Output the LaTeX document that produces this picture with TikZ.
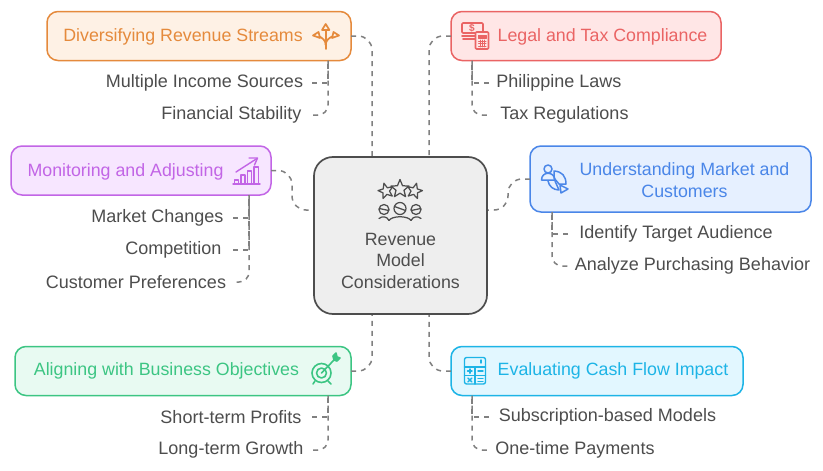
\documentclass[tikz,border=0pt]{standalone}
\usepackage{fontspec}
\setmainfont{Liberation Sans}
\definecolor{ink}{HTML}{4D4D4D}
\definecolor{dashc}{HTML}{808080}
\definecolor{oc}{HTML}{E58A3C}\definecolor{of}{HTML}{FEF1E5}
\definecolor{rc}{HTML}{EA6464}\definecolor{rf}{HTML}{FFE6E6}
\definecolor{pc}{HTML}{C265E6}\definecolor{pf}{HTML}{F7E6FF}
\definecolor{bc}{HTML}{4A86E8}\definecolor{bf}{HTML}{E6F0FF}
\definecolor{gc}{HTML}{3CC583}\definecolor{gf}{HTML}{E8FAF2}
\definecolor{cc}{HTML}{1DB4E6}\definecolor{cf}{HTML}{E2F7FF}
\newcommand{\ustar}{(0,-1)--(.27,-.34)--(.95,-.31)--(.42,.13)--(.59,.81)--(0,.44)--(-.59,.81)--(-.42,.13)--(-.95,-.31)--(-.27,-.34)--cycle}
\tikzset{
  tbox/.style 2 args={draw=#1,fill=#2,line width=1.5pt,rounded corners=11pt,outer sep=0pt,inner sep=0pt},
  lab/.style={text=#1,font=\fontsize{17.8}{21.5}\selectfont,inner sep=0pt,align=center,yshift=-1pt},
  leaf/.style={text=ink,font=\fontsize{18}{21}\selectfont,inner sep=0pt,outer sep=0pt,minimum width=#1,yshift=-1pt},
  dashline/.style={draw=dashc,line width=1.5pt,dash pattern=on 5pt off 5pt},
  branch/.style={dashline,rounded corners=10pt},
  link/.style={dashline,rounded corners=14pt},
  ico/.style={draw=#1,line width=1.5pt,line join=round,line cap=round},
}
\begin{document}
\begin{tikzpicture}[x=1pt,y=-1pt]
\useasboundingbox (0,0) rectangle (823,471);
\fill[white] (0,0) rectangle (823,471);
% anchors on the centre box
\coordinate (tl) at (372,157);\coordinate (tr) at (429,157);
\coordinate (bl) at (372,314);\coordinate (br) at (429,314);
\coordinate (lm) at (314,210);\coordinate (rm) at (487,210);
% boxes
\node[tbox={oc}{of},minimum width=304pt,minimum height=49pt] (orange) at (199,36) {};
\node[tbox={rc}{rf},minimum width=270pt,minimum height=49pt] (red) at (586,36) {};
\node[tbox={pc}{pf},minimum width=260pt,minimum height=49pt] (purple) at (141,170.5) {};
\node[tbox={bc}{bf},minimum width=281pt,minimum height=66pt] (blue) at (670.5,179) {};
\node[tbox={gc}{gf},minimum width=336pt,minimum height=49pt] (green) at (183,371) {};
\node[tbox={cc}{cf},minimum width=292pt,minimum height=49pt] (cyan) at (597,371) {};
% box labels
\node[lab=oc] (orangeT) at (183,36) {Diversifying Revenue Streams};
\node[lab=rc] (redT) at (602.5,36) {Legal and Tax Compliance};
\node[lab=pc] (purpleT) at (125.5,171) {Monitoring and Adjusting};
\node[lab=bc] (blueT) at (684.5,179) {Understanding Market and\\Customers};
\node[lab=gc] (greenT) at (166.5,370) {Aligning with Business Objectives};
\node[lab=cc] (cyanT) at (613,370) {Evaluating Cash Flow Impact};
% leaves
\node[leaf=215pt] (o1) at (204.5,82) {Multiple Income Sources};
\node[leaf=161pt] (o2) at (231.5,114) {Financial Stability};
\node[leaf=140pt] (r1) at (559,82) {Philippine Laws};
\node[leaf=151pt] (r2) at (564.5,114) {Tax Regulations};
\node[leaf=151pt] (p1) at (157.5,217) {Market Changes};
\node[leaf=119pt] (p2) at (173.5,249) {Competition};
\node[leaf=194pt] (p3) at (136,281) {Customer Preferences};
\node[leaf=216pt] (b1) at (676,233) {Identify Target Audience};
\node[leaf=249pt] (b2) at (692.5,265) {Analyze Purchasing Behavior};
\node[leaf=162pt] (g1) at (231,416) {Short-term Profits};
\node[leaf=162pt] (g2) at (231,449) {Long-term Growth};
\node[leaf=237pt] (c1) at (607.5,416) {Subscription-based Models};
\node[leaf=172pt] (c2) at (575,449) {One-time Payments};
% trunk tops
\coordinate (ot) at (328,60.5);\coordinate (rt) at (472,60.5);
\coordinate (pt) at (249,195);\coordinate (bt) at (552,212);
\coordinate (gt) at (328,395.5);\coordinate (ct) at (472,395.5);
% leaf connectors
\draw[dashline] (o1.east) -- (ot |- o1.east) -- (ot);
\draw[branch] (ot) -- (ot |- o2.east) -- (o2.east);
\draw[dashline] (r1.west) -- (rt |- r1.west) -- (rt);
\draw[branch] (rt) -- (rt |- r2.west) -- (r2.west);
\draw[dashline] (p1.east) -- (pt |- p1.east) -- (pt);
\draw[dashline] (p2.east) -- (pt |- p2.east) -- (pt);
\draw[branch] (pt) -- (pt |- p3.east) -- (p3.east);
\draw[dashline] (b1.west) -- (bt |- b1.west) -- (bt);
\draw[branch] (bt) -- (bt |- b2.west) -- (b2.west);
\draw[dashline] (g1.east) -- (gt |- g1.east) -- (gt);
\draw[branch] (gt) -- (gt |- g2.east) -- (g2.east);
\draw[dashline] (c1.west) -- (ct |- c1.west) -- (ct);
\draw[branch] (ct) -- (ct |- c2.west) -- (c2.west);
% main connectors
\draw[link] (orange.east) -- (tl |- orange.east) -- (tl);
\draw[link] (red.west) -- (tr |- red.west) -- (tr);
\draw[link] (green.east) -- (bl |- green.east) -- (bl);
\draw[link] (cyan.west) -- (br |- cyan.west) -- (br);
\draw[link] (purple.east) -- (292,170.5) -- (292,210) -- (lm);
\draw[link] (blue.west) -- (508,179) -- (508,210) -- (rm);
% centre
\node[draw=ink,fill=black!6.5,line width=1.7pt,rounded corners=19pt,minimum width=173pt,minimum height=157pt,inner sep=0pt,outer sep=0pt] (hub) at (400.5,235.5) {};
\node[lab=ink] (hubT) at (400.5,259.5) {Revenue\\Model\\Considerations};
% hub icon
\begin{scope}[ico=ink,line width=1.25pt]
\begin{scope}[shift={(386,191)},rotate=15,x=8pt,y=-8pt]\draw \ustar;\end{scope}
\begin{scope}[shift={(414.5,191)},rotate=-15,x=8pt,y=-8pt]\draw \ustar;\end{scope}
\begin{scope}[shift={(400,189)},x=9.5pt,y=-9.5pt]\draw[fill=black!6.5] \ustar;\end{scope}
\draw (384,209.5) circle[radius=5];\draw (379.2,208.5)--(388.8,210.5);
\draw (400,208.5) circle[radius=6];\draw (394.5,206.5)--(405.5,210.5);
\draw (416,209.5) circle[radius=5];\draw (411.2,210.5)--(420.8,208.5);
\draw (379,218.5) .. controls (382,216) and (387,216) .. (389,220.5);
\draw (389,220.5) .. controls (392,215.5) and (408,215.5) .. (411,220.5);
\draw (411,220.5) .. controls (413,216) and (418,216) .. (421,218.5);
\end{scope}
% orange icon
\begin{scope}[ico=oc,line width=1.7pt]
\draw (325.7,49)--(325.7,30);
\draw (325.7,45) .. controls (325.7,40) and (322,38) .. (319.5,36.5);
\draw (325.7,45) .. controls (325.7,40) and (329.5,38) .. (332,36.5);
\draw (325.7,24)--(322,30)--(329.4,30)--cycle;
\draw (313,35.5)--(318.5,32)--(320,38)--cycle;
\draw (339,35.5)--(333.5,32)--(332,38)--cycle;
\end{scope}
% red icon
\begin{scope}[ico=rc,line width=1.6pt]
\draw[rounded corners=1pt] (462,23) rectangle (483,33);
\draw (462,36)--(475,36);\draw (463,39)--(475,39);
\node[text=rc,font=\bfseries\fontsize{10}{10}\selectfont,inner sep=0pt] (dollar) at (472,28) {\$};
\draw[fill=rf,rounded corners=1pt] (475.5,32) rectangle (488.5,49);
\draw[fill=rc,line width=.8pt] (478.5,35) rectangle (486,38);
\foreach \y in {41,43.5,46}{\draw[line width=1pt] (478.5,\y)--(486,\y);}
\foreach \x in {480.5,482.5,484.5}{\draw[line width=.7pt] (\x,40)--(\x,47);}
\end{scope}
% purple icon
\begin{scope}[ico=pc,line width=1.4pt]
\draw (233,184)--(260,184);
\draw (234.5,184)--(234.5,180)--(238.5,180)--(238.5,184);
\draw (241,184)--(241,175)--(245,175)--(245,184);
\draw (247.5,184)--(247.5,171)--(251.5,171)--(251.5,184);
\draw (254,184)--(254,167)--(258.5,167)--(258.5,184);
\draw (236,172)--(257,158.5);
\draw (249,158)--(257.5,158)--(254.5,165);
\end{scope}
% blue icon
\begin{scope}[ico=bc,line width=1.5pt]
\draw (548,169) circle[radius=4];
\draw (541.5,180) .. controls (541.5,171) and (554.5,171) .. (555,180) -- cycle;
\draw (554,171) .. controls (562,171.5) and (566,176) .. (566,184) -- (559,184) -- (554,178) -- cycle;
\draw (548,181) .. controls (549,186) and (553,190) .. (559,190) -- (555,181);
\draw (560,185)--(568,189)--(561,193)--cycle;
\end{scope}
% green icon
\begin{scope}[ico=gc,line width=1.6pt]
\draw (321.5,373) circle[radius=9.5];
\draw (321.5,373) circle[radius=5];
\draw (321.5,373)--(334,360);
\draw[fill=gc] (334,360)--(333,356)--(336,353)--(337,357)--(340,358)--(337,361)--cycle;
\draw (315,381)--(313,384) (328,381)--(331,384);
\end{scope}
% cyan icon
\begin{scope}[ico=cc,line width=1.4pt]
\draw[rounded corners=2pt] (464.5,357.5) rectangle (485.5,384);
\draw (464.5,367)--(485.5,367) (475,367)--(475,384) (464.5,375.5)--(485.5,375.5);
\draw (481,360)--(481,363);
\draw (467.5,371)--(472,371) (469.8,369)--(469.8,373.2);
\draw (478,371)--(483,371);
\draw (467.8,378)--(471.8,382) (471.8,378)--(467.8,382);
\draw (478,378.5)--(483,378.5) (478,381.5)--(483,381.5);
\end{scope}
\end{tikzpicture}
\end{document}
